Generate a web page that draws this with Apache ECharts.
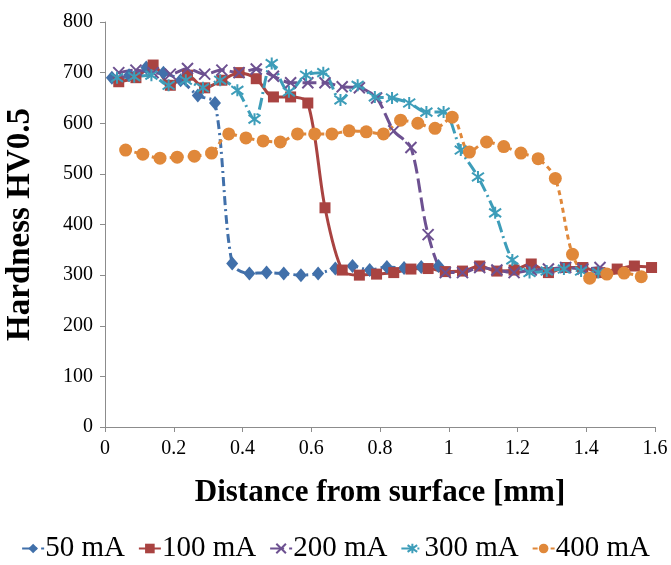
<!DOCTYPE html>
<html>
<head>
<meta charset="utf-8">
<script src="https://cdn.jsdelivr.net/npm/echarts@6/dist/echarts.min.js"></script>
<style>
  html, body { margin: 0; padding: 0; background: #fff; }
  #chart { width: 671px; height: 565px; }
</style>
</head>
<body>
<div id="chart"></div>
<script>
const seriesNames = ["50 mA", "100 mA", "200 mA", "300 mA", "400 mA"];

const ma50X = [0.02, 0.07, 0.12, 0.17, 0.22, 0.27, 0.32, 0.37, 0.42, 0.47, 0.52, 0.57, 0.62, 0.67, 0.72, 0.77, 0.82, 0.87, 0.92, 0.97];
const ma50Y = [690, 695, 710, 700, 685, 655, 640, 323, 303, 305, 303, 300, 303, 313, 318, 310, 316, 314, 316, 318];

const ma100X = [0.04, 0.09, 0.14, 0.19, 0.24, 0.29, 0.34, 0.39, 0.44, 0.49, 0.54, 0.59, 0.64, 0.69, 0.74, 0.79, 0.84, 0.89, 0.94, 0.99, 1.04, 1.09, 1.14, 1.19, 1.24, 1.29, 1.34, 1.39, 1.44, 1.49, 1.54, 1.59];
const ma100Y = [682, 690, 715, 675, 695, 670, 685, 700, 688, 652, 652, 640, 433, 310, 300, 302, 305, 312, 313, 307, 308, 318, 308, 310, 322, 305, 315, 315, 305, 312, 318, 315];

const ma200X = [0.04, 0.09, 0.14, 0.19, 0.24, 0.29, 0.34, 0.39, 0.44, 0.49, 0.54, 0.59, 0.64, 0.69, 0.74, 0.79, 0.84, 0.89, 0.94, 0.99, 1.04, 1.09, 1.14, 1.19, 1.24, 1.29, 1.34, 1.39, 1.44];
const ma200Y = [700, 705, 700, 697, 708, 697, 705, 700, 707, 693, 680, 680, 680, 672, 670, 650, 585, 552, 380, 305, 305, 315, 310, 305, 310, 312, 315, 312, 315];

const ma300X = [0.035, 0.085, 0.135, 0.185, 0.235, 0.285, 0.335, 0.385, 0.435, 0.485, 0.535, 0.585, 0.635, 0.685, 0.735, 0.785, 0.835, 0.885, 0.935, 0.985, 1.035, 1.085, 1.135, 1.185, 1.235, 1.285, 1.335, 1.385, 1.435];
const ma300Y = [690, 692, 695, 675, 685, 670, 685, 665, 608, 718, 662, 695, 700, 646, 675, 652, 650, 640, 622, 622, 547, 494, 423, 330, 305, 308, 312, 308, 305];

const ma400X = [0.06, 0.11, 0.16, 0.21, 0.26, 0.31, 0.36, 0.41, 0.46, 0.51, 0.56, 0.61, 0.66, 0.71, 0.76, 0.81, 0.86, 0.91, 0.96, 1.01, 1.06, 1.11, 1.16, 1.21, 1.26, 1.31, 1.36, 1.41, 1.46, 1.51, 1.56];
const ma400Y = [547, 539, 531, 533, 535, 541, 579, 571, 565, 563, 579, 579, 579, 585, 583, 579, 606, 600, 590, 612, 543, 563, 554, 541, 530, 491, 341, 294, 302, 304, 297];

const colors = ["#4170AA", "#A94341", "#6D5191", "#3D9DB9", "#E0883A"];
const serif = "'Liberation Serif', 'Times New Roman', serif";

const pairs = (xs, ys) => xs.map((x, i) => [x, ys[i]]);

const styles = [
  { data: pairs(ma50X, ma50Y), symbol: "diamond", size: [12, 14], dash: [9, 4, 2, 4] },
  { data: pairs(ma100X, ma100Y), symbol: "rect", size: 11, dash: "solid" },
  { data: pairs(ma200X, ma200Y), symbol: "path://M0,0L10,10M10,0L0,10", size: 11, dash: [14, 5], stroke: true },
  { data: pairs(ma300X, ma300Y), symbol: "path://M5,0L5,10M0,1.5L10,8.5M10,1.5L0,8.5", size: 12, dash: [12, 4, 2, 4], stroke: true },
  { data: pairs(ma400X, ma400Y), symbol: "circle", size: 13, dash: [5, 4] },
];

const chart = echarts.init(document.getElementById("chart"));

chart.setOption({
  animation: false,
  color: colors,
  grid: { left: 105, right: 16, top: 22, bottom: 138, outerBoundsMode: "none", containLabel: false },
  legend: {
    bottom: -3,
    left: "center",
    itemWidth: 22,
    itemHeight: 12,
    itemGap: 13,
    textStyle: { fontFamily: serif, fontSize: 29, color: "#000", padding: [0, 0, 0, -4] },
    data: seriesNames,
  },
  xAxis: {
    type: "value",
    min: 0,
    max: 1.6,
    interval: 0.2,
    name: "Distance from surface [mm]",
    nameLocation: "middle",
    nameGap: 50,
    nameTextStyle: { fontFamily: serif, fontSize: 31, fontWeight: "bold", color: "#000" },
    axisLine: { lineStyle: { color: "#8c8c8c" } },
    axisTick: { show: true, length: 5, lineStyle: { color: "#8c8c8c" } },
    axisLabel: { fontFamily: serif, fontSize: 20, color: "#000", margin: 12 },
    splitLine: { show: false },
  },
  yAxis: {
    type: "value",
    min: 0,
    max: 800,
    interval: 100,
    name: "Hardness HV0.5",
    nameLocation: "middle",
    nameGap: 68,
    nameTextStyle: { fontFamily: serif, fontSize: 33, fontWeight: "bold", color: "#000" },
    axisLine: { show: true, lineStyle: { color: "#8c8c8c" } },
    axisTick: { show: true, length: 5, lineStyle: { color: "#8c8c8c" } },
    axisLabel: { fontFamily: serif, fontSize: 20, color: "#000", margin: 12 },
    splitLine: { show: false },
  },
  series: styles.map((s, i) => ({
    name: seriesNames[i],
    type: "line",
    data: s.data,
    smooth: 0.3,
    symbol: s.symbol,
    symbolSize: s.size,
    showAllSymbol: true,
    lineStyle: { width: 3, type: s.dash, color: colors[i] },
    itemStyle: s.stroke
      ? { color: "rgba(0,0,0,0)", borderColor: colors[i], borderWidth: 2 }
      : { color: colors[i], borderWidth: 0 },
  })),
});
</script>
</body>
</html>
